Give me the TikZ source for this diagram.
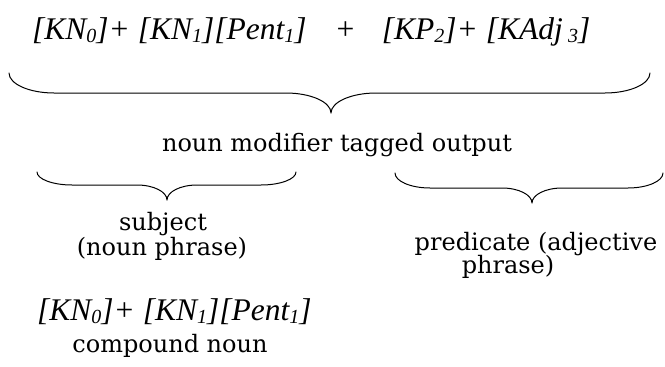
\documentclass[tikz,border=0pt]{standalone}
\usepackage{fontspec}
\newfontfamily\tnr{Liberation Serif}
\newfontfamily\lblfont{DejaVu Serif}
\newcommand{\lsub}[1]{\raisebox{-0.1em}{\fontsize{20}{20}\selectfont #1}}
\tikzset{
 brc/.style={line width=1pt, line cap=round, line join=round},
 formula/.style={font=\tnr\itshape\fontsize{31.5}{31.5}\selectfont, inner sep=0pt, anchor=base west},
 lbl/.style={font=\lblfont\fontsize{24}{24}\selectfont, inner sep=0pt, anchor=base},
}
\newcommand{\wordbrace}[8]{%
 \draw[brc] (#1,#3) .. controls (#1,{#3+0.55*(#4-#3)}) and ({#1+0.45*#7},#4) .. ({#1+#7},#4)
  -- ({#5-#8},#4) .. controls ({#5-0.45*#8},#4) and (#5,{#6-0.55*(#6-#4)}) .. (#5,#6)
  .. controls (#5,{#6-0.55*(#6-#4)}) and ({#5+0.45*#8},#4) .. ({#5+#8},#4)
  -- ({#2-#7},#4) .. controls ({#2-0.45*#7},#4) and (#2,{#3+0.55*(#4-#3)}) .. (#2,#3);}
\begin{document}
\begin{tikzpicture}[x=1pt,y=-1pt]
\useasboundingbox (0,0) rectangle (665,367);
\node[formula] (top) at (32,39) {[KN\lsub{0}]+ [KN\lsub{1}][Pent\lsub{1}]\hspace{28pt}+\hspace{26pt}[KP\lsub{2}]+ [KAdj\,\lsub{3}]};
\wordbrace{9}{650}{73}{93}{331}{113}{45}{45}
\node[lbl] (nmto) at (337,151) {noun modifier tagged output};
\wordbrace{37}{296}{172}{185}{167}{200}{35}{30}
\wordbrace{395}{663}{173}{188}{532}{203}{35}{30}
\node[lbl] (subj) at (163,230) {subject};
\node[lbl] (np) at (162,255) {(noun phrase)};
\node[lbl] (pred) at (536,250) {predicate (adjective};
\node[lbl] (phr) at (508,273) {phrase)};
\node[formula] (cn) at (37,320) {[KN\lsub{0}]+ [KN\lsub{1}][Pent\lsub{1}]};
\node[lbl] (cnl) at (170,352) {compound noun};
\end{tikzpicture}
\end{document}
